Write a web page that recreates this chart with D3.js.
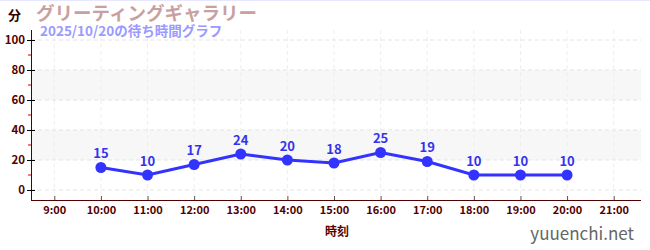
<!DOCTYPE html>
<html>
<head>
<meta charset="utf-8">
<script src="https://cdn.jsdelivr.net/npm/d3@7"></script>
<style>
  body { margin: 0; background: #fff; }
  text { font-family: "Noto Sans CJK JP", "Noto Sans", sans-serif; }
</style>
</head>
<body>
<svg id="chart" width="650" height="250"></svg>
<script>
var hours = [10, 11, 12, 13, 14, 15, 16, 17, 18, 19, 20];
var waits = [15, 10, 17, 24, 20, 18, 25, 19, 10, 10, 10];
var xTicks = [9, 10, 11, 12, 13, 14, 15, 16, 17, 18, 19, 20, 21];
var yTicks = [0, 20, 40, 60, 80, 100];
var yMinor = [10, 30, 50, 70, 90];
var bands = [[20, 40], [60, 80]];

(function() {
var svg = d3.select("#chart"),
    pLeft = 31, pRight = 641, pTop = 30, pBottom = 200,
    axisColor = "#550000";

var x = d3.scaleLinear().domain([8.5, 21.5]).range([pLeft, 637]);
var y = d3.scaleLinear().domain([-6.67, 106.67]).range([pBottom, pTop]);

svg.append("line").attr("x1", 0).attr("x2", 650).attr("y1", 0.5).attr("y2", 0.5)
  .style("stroke", "#e6e6ff");

// bands
svg.selectAll("rect.band").data(bands).enter().append("rect")
  .attr("class", "band")
  .attr("x", pLeft).attr("width", pRight - pLeft)
  .attr("y", function(d) { return y(d[1]); })
  .attr("height", function(d) { return y(d[0]) - y(d[1]); })
  .style("fill", "#f7f7f7");

// grid
svg.selectAll("line.hgrid").data(yTicks).enter().append("line")
  .attr("x1", pLeft).attr("x2", pRight)
  .attr("y1", function(d) { return y(d); }).attr("y2", function(d) { return y(d); })
  .style("stroke", "#e4e4e4").style("stroke-dasharray", "4,3");
svg.selectAll("line.vgrid").data(xTicks).enter().append("line")
  .attr("x1", function(d) { return x(d); }).attr("x2", function(d) { return x(d); })
  .attr("y1", pTop).attr("y2", pBottom)
  .style("stroke", "#eeeeee").style("stroke-dasharray", "4,3");

// y axis
var yAxis = svg.append("g").attr("transform", "translate(" + pLeft + ",0)")
  .call(d3.axisLeft(y).tickValues(yTicks).tickSize(4).tickSizeOuter(0));
yAxis.select(".domain").style("stroke", axisColor).attr("d", "M0.5," + pTop + "V" + pBottom);
yAxis.selectAll(".tick line").attr("x1", -4).attr("x2", 4).style("stroke", "#000");
yAxis.selectAll(".tick text").attr("x", -6).style("fill", axisColor)
  .style("font-size", "11.5px").style("font-weight", "bold");
svg.selectAll("line.minor").data(yMinor).enter().append("line")
  .attr("x1", pLeft - 3).attr("x2", pLeft)
  .attr("y1", function(d) { return y(d); }).attr("y2", function(d) { return y(d); })
  .style("stroke", "#cc0000");

// x axis
var xAxis = svg.append("g").attr("transform", "translate(0," + pBottom + ")")
  .call(d3.axisBottom(x).tickValues(xTicks).tickFormat(function(d) { return d + ":00"; }).tickSize(0));
xAxis.select(".domain").style("stroke", axisColor).attr("d", "M" + pLeft + ",0.5H" + pRight);
xAxis.selectAll(".tick line").attr("y1", -4).attr("y2", 0).style("stroke", "#555");
xAxis.selectAll(".tick text").attr("y", 6).style("fill", axisColor)
  .style("font-size", "11px").style("font-weight", "bold");

// line
var line = d3.line().x(function(d, i) { return x(hours[i]); }).y(function(d) { return y(d); });
svg.append("path").datum(waits).attr("d", line)
  .style("fill", "none").style("stroke", "#3333ff").style("stroke-width", 3);
svg.selectAll("circle.pt").data(waits).enter().append("circle")
  .attr("cx", function(d, i) { return x(hours[i]); })
  .attr("cy", function(d) { return y(d); })
  .attr("r", 5.5).style("fill", "#3333ff");
svg.selectAll("text.val").data(waits).enter().append("text")
  .attr("x", function(d, i) { return x(hours[i]); })
  .attr("y", function(d) { return y(d) - 9; })
  .attr("text-anchor", "middle")
  .style("fill", "#3333ee").style("font-size", "13px").style("font-weight", "bold")
  .text(function(d) { return d; });

// titles
svg.append("text").attr("x", 8).attr("y", 20).style("font-size", "13px").style("font-weight", "bold")
  .style("fill", "#330000").text("分");
svg.append("text").attr("x", 36).attr("y", 20).style("font-size", "18.5px").style("font-weight", "bold")
  .style("fill", "#c8a0a0").text("グリーティングギャラリー");
svg.append("text").attr("x", 40).attr("y", 36).style("font-size", "13.5px").style("font-weight", "bold")
  .style("fill", "#9a9aff").text("2025/10/20の待ち時間グラフ");
svg.append("text").attr("x", 337).attr("y", 236).attr("text-anchor", "middle")
  .style("font-size", "12px").style("font-weight", "bold").style("fill", axisColor).text("時刻");
svg.append("text").attr("x", 634).attr("y", 240).attr("text-anchor", "end")
  .style("font-size", "17px").style("fill", "#666").text("yuuenchi.net");
})();
</script>
</body>
</html>
